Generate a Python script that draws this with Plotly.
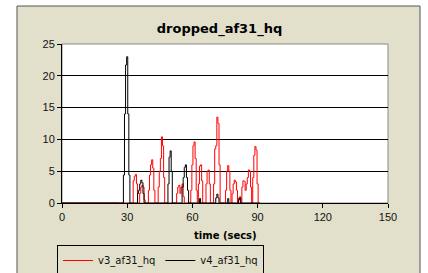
import plotly.graph_objects as go

# sampling grid (seconds)
time = [0, 26.0, 26.5, 27.0, 27.5, 28.0, 28.5, 29.0, 29.5, 30.0, 30.5, 31.0, 31.5, 32.0, 32.5,
        33.0, 33.5, 34.0, 34.5, 35.0, 35.5, 36.0, 36.5, 37.0, 37.5, 38.0, 38.5, 39.0, 39.5,
        40.0, 40.5, 41.0, 41.5, 42.0, 42.5, 43.0, 43.5, 44.0, 44.5, 45.0, 45.5, 46.0, 46.5,
        47.0, 47.5, 48.0, 48.5, 49.0, 49.5, 50.0, 50.5, 51.0, 51.5, 52.0, 52.5, 53.0, 53.5,
        54.0, 54.5, 55.0, 55.5, 56.0, 56.5, 57.0, 57.5, 58.0, 58.5, 59.0, 59.5, 60.0, 60.5,
        61.0, 61.5, 62.0, 62.5, 63.0, 63.5, 64.0, 64.5, 65.0, 65.5, 66.0, 66.5, 67.0, 67.5,
        68.0, 68.5, 69.0, 69.5, 70.0, 70.5, 71.0, 71.5, 72.0, 72.5, 73.0, 73.5, 74.0, 74.5,
        75.0, 75.5, 76.0, 76.5, 77.0, 77.5, 78.0, 78.5, 79.0, 79.5, 80.0, 80.5, 81.0, 81.5,
        82.0, 82.5, 83.0, 83.5, 84.0, 84.5, 85.0, 85.5, 86.0, 86.5, 87.0, 87.5, 88.0, 88.5,
        89.0, 89.5, 90.0, 90.5, 91.0]

v3_af31_hq = [0, 0, 0, 0, 0, 0, 0, 0, 0, 0, 0, 0, 0, 0, 0,
              3.5, 4.2, 4.5, 3.0, 0, 0, 1.5, 2.5, 2.8, 2.5, 0.5, 0, 0, 0,
              2.0, 4.4, 6.0, 6.8, 5.5, 2.0, 0, 0, 0, 2.5, 5.0, 7.0, 10.4, 9.0,
              4.0, 0, 0, 0, 0, 0, 0, 0, 0, 0, 0, 0, 1.5, 2.5,
              2.8, 1.5, 2.5, 3.0, 1.0, 0, 0, 0, 0, 0, 0, 2.0, 6.0, 9.0,
              9.6, 7.0, 2.0, 0, 3.0, 5.8, 6.0, 3.5, 0, 0, 0, 3.0, 5.0, 5.2,
              3.0, 0, 0, 0, 3.0, 8.5, 9.0, 13.5, 12.5, 6.0, 0, 0, 0, 0,
              0, 2.0, 5.0, 5.9, 5.0, 2.0, 0, 1.5, 3.0, 3.6, 3.3, 2.0, 0, 0.8,
              1.0, 0, 2.5, 3.5, 3.4, 2.0, 3.0, 4.0, 5.2, 5.0, 2.5, 0, 4.0, 7.5,
              8.9, 8.3, 3.0, 0, 0]

v4_af31_hq = [0, 0, 0, 0, 0, 0, 4.4, 14.0, 21.7, 23.0, 14.0, 4.4, 0, 0, 0,
              0, 0, 0, 0, 1.5, 2.0, 3.0, 3.6, 3.2, 1.5, 0, 0, 0, 0,
              0, 0, 0, 0, 0, 0, 0, 0, 0, 0, 0, 0, 0, 0,
              0, 0, 0, 0, 3.0, 7.2, 8.2, 5.0, 0, 0, 0, 0, 0, 0,
              0, 0, 0, 2.5, 4.0, 5.6, 6.0, 4.0, 2.0, 0, 0, 0, 0, 0,
              0, 0, 0, 0, 0, 0.7, 0, 0, 0, 0, 0, 0, 0, 0,
              0, 0, 0, 0, 0, 0, 0.8, 1.4, 0.8, 0, 0, 0, 0, 0,
              0, 0, 0, 0.7, 0, 0, 0, 0, 0, 0, 0, 0, 0, 0.5,
              0.8, 0, 0, 0, 0, 0, 0, 0, 0, 0, 0, 0, 0, 0,
              0, 0, 0, 0, 0]

x_ticks = [0, 30, 60, 90, 120, 150]
y_ticks = [0, 5, 10, 15, 20, 25]

BEIGE = "#E2E0CA"
W, H = 428, 273
L, R, T, B = 62, 40, 44, 70
pw, ph = W - L - R, H - T - B

def px_x(p):
    return (p - L) / pw

def px_y(p):
    return (H - B - p) / ph

fig = go.Figure()
fig.add_trace(go.Scatter(x=time, y=v3_af31_hq, name="v3_af31_hq", mode="lines",
                         line=dict(color="#FF0000", width=1, shape="hvh")))
fig.add_trace(go.Scatter(x=time, y=v4_af31_hq, name="v4_af31_hq", mode="lines",
                         line=dict(color="#000000", width=1, shape="hvh")))

fig.update_layout(
    width=W, height=H,
    margin=dict(l=L, r=R, t=T, b=B, autoexpand=False),
    paper_bgcolor="white",
    plot_bgcolor="white",
    title=dict(text="<b>dropped_af31_hq</b>", x=px_x(219.5), xref="paper", xanchor="center",
               y=1 - 28 / H, yref="container", yanchor="middle",
               font=dict(family="DejaVu Sans", size=13, color="#000")),
    font=dict(family="Liberation Sans", size=11, color="#111"),
    showlegend=True,
    legend=dict(orientation="h", x=57 / W, xref="container", y=1 - 245 / H, yref="container",
                xanchor="left", yanchor="top",
                bgcolor=BEIGE, bordercolor="#000", borderwidth=1,
                font=dict(family="DejaVu Sans", size=10, color="#111"),
                itemwidth=30, tracegroupgap=0),
    shapes=[
        dict(type="rect", xref="paper", yref="paper", x0=px_x(17), x1=px_x(420),
             y0=px_y(290), y1=px_y(6), fillcolor=BEIGE, line=dict(color="#555", width=1),
             layer="below"),
        dict(type="rect", xref="paper", yref="paper", x0=0, x1=1, y0=0, y1=1,
             fillcolor="white", line=dict(color="#888", width=1), layer="below"),
    ],
    annotations=[
        dict(text="<b>time (secs)</b>", xref="paper", yref="paper", x=px_x(225), y=px_y(235),
             xanchor="center", yanchor="middle", showarrow=False,
             font=dict(family="DejaVu Sans", size=10, color="#000")),
    ],
)

fig.update_xaxes(range=[0, 150], tickvals=x_ticks, ticktext=[str(v) for v in x_ticks],
                 showgrid=False, zeroline=False, showline=True, linecolor="#000", linewidth=1,
                 ticks="outside", ticklen=4, tickcolor="#000", automargin=False)
fig.update_yaxes(range=[0, 25], tickvals=y_ticks, ticktext=[str(v) for v in y_ticks],
                 showgrid=True, gridcolor="#000", gridwidth=1, zeroline=False,
                 showline=True, linecolor="#000", linewidth=1,
                 ticks="outside", ticklen=4, tickcolor="#000", automargin=False)

fig.write_html("out.html", config={"displayModeBar": False},
               post_script="document.body.style.margin='0px';document.body.style.overflow='hidden';")
